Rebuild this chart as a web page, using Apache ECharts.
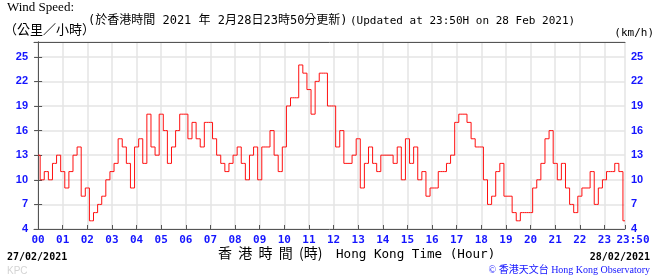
<!DOCTYPE html>
<html>
<head>
<meta charset="utf-8">
<script src="https://cdn.jsdelivr.net/npm/echarts@6/dist/echarts.min.js"></script>
<style>
html,body{margin:0;padding:0;background:#fff;}
#chart{width:656px;height:280px;}
</style>
</head>
<body>
<div id="chart"></div>
<script>
// 10-minute wind speed readings (km/h), 00:00 .. 23:50 HKT, 28 Feb 2021
var speedsH00_05 = [13,10,11,10,12,13, 11,9,11,13,14,8, 9,5,6,7,8,10, 11,12,15,14,12,9, 14,15,12,18,14,13, 18,16,12,14,16,18];
var speedsH06_11 = [18,15,17,15,14,17, 17,15,13,12,11,12, 13,14,12,10,13,14, 10,14,14,16,13,11, 14,19,20,20,24,23, 21,18,22,23,23,19];
var speedsH12_17 = [19,14,16,12,12,13, 15,9,12,14,12,11, 13,13,13,12,14,10, 15,12,14,10,11,8, 9,9,11,11,12,13, 17,18,18,17,15,14];
var speedsH18_23 = [14,10,7,8,11,12, 8,8,6,5,6,6, 6,9,10,12,15,16, 12,10,12,9,7,6, 8,9,9,11,7,9, 10,11,11,12,11,5];
var windSpeed = speedsH00_05.concat(speedsH06_11, speedsH12_17, speedsH18_23);
var minutesPerStep = 10;
var hourTicks = ['00','01','02','03','04','05','06','07','08','09','10','11','12','13','14','15','16','17','18','19','20','21','22','23'];
var lastTickLabel = '23:50';
var yTicks = [4,7,10,13,16,19,22,25];

var lastHour = (windSpeed.length - 1) * minutesPerStep / 60;
var xTickValues = hourTicks.map(function(h){ return Number(h); }).concat([lastHour]);
var seriesData = windSpeed.map(function(v, i){ return [i * minutesPerStep / 60, v]; });

var chart = echarts.init(document.getElementById('chart'), null, {renderer:'canvas'});
var blue = '#1515ff';
var monoFont = '"DejaVu Sans Mono","Noto Sans CJK TC",monospace';

function yAxisDef(pos){
  return {
    type:'value', position:pos, min:4, max:26.8, interval:3,
    axisLine:{show:true, lineStyle:{color:'#555', width:1}},
    axisTick:{show:true, inside:true, length:4, lineStyle:{color:'#555'}},
    splitLine:{show: pos==='left', lineStyle:{color:'#e4e4e4', width:1.5}},
    axisLabel:{
      show:true, color:blue, fontWeight:'bold', fontSize:11, margin:6,
      fontFamily:'"Liberation Sans",Arial,sans-serif',
      showMaxLabel:false,
      formatter:function(v){ return yTicks.indexOf(v) >= 0 ? String(v) : ''; }
    }
  };
}

var option = {
  animation:false,
  backgroundColor:'#fff',
  grid:{left:34, right:31, top:42, bottom:51},
  xAxis:[{
    type:'value', min:-1/6, max:lastHour,
    axisLine:{show:true, lineStyle:{color:'#555', width:1}},
    axisTick:{show:true, inside:true, length:4, customValues:xTickValues, lineStyle:{color:'#555'}},
    splitLine:{show:true, lineStyle:{color:'#e4e4e4', width:1.5}},
    axisLabel:{
      show:true, customValues:xTickValues, color:blue, fontWeight:'bold', fontSize:11, margin:6,
      fontFamily:monoFont,
      formatter:function(v){
        if (Math.abs(v - lastHour) < 1e-6) return '{last|' + lastTickLabel + '}';
        return hourTicks[Math.round(v)];
      },
      rich:{last:{color:blue, fontWeight:'bold', fontSize:11, fontFamily:monoFont, padding:[0,0,0,16]}}
    }
  },{
    type:'value', position:'top', min:-1/6, max:lastHour,
    axisLine:{show:true, lineStyle:{color:'#555', width:1}},
    axisTick:{show:false}, axisLabel:{show:false}, splitLine:{show:false}
  }],
  yAxis:[yAxisDef('left'), yAxisDef('right')],
  series:[{
    type:'line', xAxisIndex:0, yAxisIndex:0, data:seriesData,
    step:'middle',
    showSymbol:false, symbol:'none',
    lineStyle:{color:'#ff1010', width:1},
    z:5
  }],
  graphic:[
    {type:'text', left:7, top:1, style:{text:'Wind Speed:', font:'13px "Liberation Serif",serif', fill:'#000'}},
    {type:'text', left:4, top:23, style:{text:'（公里／小時）', font:'13px "Noto Sans CJK TC",sans-serif', fill:'#000'}},
    {type:'text', left:88, top:15, style:{text:'(於香港時間 2021 年 2月28日23時50分更新)', font:'12px ' + monoFont, fill:'#000'}},
    {type:'text', left:350, top:16, style:{text:'(Updated at 23:50H on 28 Feb 2021)', font:'11px ' + monoFont, fill:'#000'}},
    {type:'text', right:2, top:28, style:{text:'(km/h)', font:'11px ' + monoFont, fill:'#000'}},
    {type:'text', left:7, top:252, style:{text:'27/02/2021', font:'bold 10px ' + monoFont, fill:'#000'}},
    {type:'text', right:6, top:252, style:{text:'28/02/2021', font:'bold 10px ' + monoFont, fill:'#000'}},
    {type:'text', left:218, top:246, style:{text:'香  港  時  間  (時)', font:'14px "Noto Sans CJK TC",serif', fill:'#000'}},
    {type:'text', left:336, top:248, style:{text:'Hong Kong Time (Hour)', font:'12.6px ' + monoFont, fill:'#000'}},
    {type:'text', left:7, top:266, style:{text:'KPC', font:'10px "Liberation Sans",sans-serif', fill:'#d4d4d4'}},
    {type:'text', right:6, top:265, style:{text:'© 香港天文台 Hong Kong Observatory', font:'10px "Liberation Serif","Noto Sans CJK TC",serif', fill:blue}}
  ]
};
chart.setOption(option);
</script>
</body>
</html>
